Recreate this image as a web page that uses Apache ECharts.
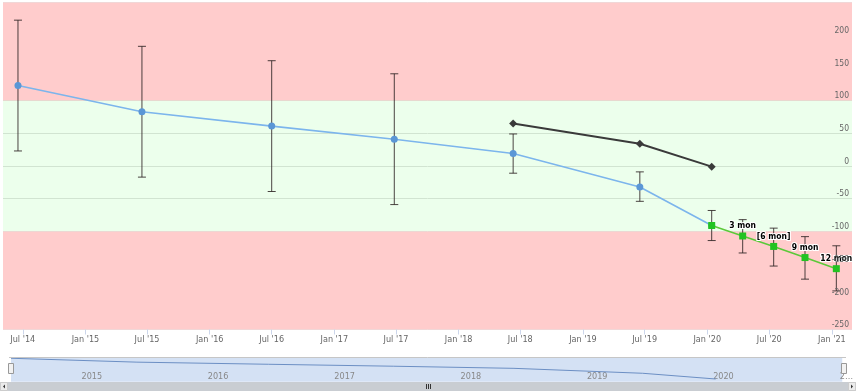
<!DOCTYPE html>
<html>
<head>
<meta charset="utf-8">
<script src="https://cdn.jsdelivr.net/npm/echarts@6/dist/echarts.min.js"></script>
<style>html,body{margin:0;padding:0;background:#fff}#c{width:856px;height:392px}</style>
</head>
<body>
<div id="c"></div>
<script>
// ---- data ----
const blueDates = ['2014-06-17','2015-06-16','2016-07-01','2017-06-26','2018-06-10','2019-06-17','2020-01-14'];
const blueValues = [123, 83, 61, 41, 19, -32, -91];
const blueLow    = [23, -17, -39, -59, -11, -54, -114];
const blueHigh   = [223, 183, 161, 141, 49, -9, -68];

const greenDates  = ['2020-01-14','2020-04-14','2020-07-14','2020-10-14','2021-01-14'];
const greenValues = [-91, -107, -123, -140, -157];
const greenLow    = [null, -133, -153, -173, -191];
const greenHigh   = [null, -82, -95, -108, -122];
const greenLabels = ['', '3 mon', '[6 mon]', '9 mon', '12 mon'];

const blackDates  = ['2018-06-10','2019-06-17','2020-01-14'];
const blackValues = [65, 34, -1];

const bandLimits = [[100, 250], [-100, 100], [-250, -100]];

const xTickDates  = ['2014-07-01','2015-01-01','2015-07-01','2016-01-01','2016-07-01','2017-01-01','2017-07-01','2018-01-01','2018-07-01','2019-01-01','2019-07-01','2020-01-01','2020-07-01','2021-01-01'];
const xTickLabels = ["Jul '14","Jan '15","Jul '15","Jan '16","Jul '16","Jan '17","Jul '17","Jan '18","Jul '18","Jan '19","Jul '19","Jan '20","Jul '20","Jan '21"];
const navTickDates  = ['2015-01-01','2016-01-01','2017-01-01','2018-01-01','2019-01-01','2020-01-01','2021-01-01'];
const navTickLabels = ['2015','2016','2017','2018','2019','2020','2…'];
const xRange = ['2014-05-04', '2021-03-01'];

// ---- helpers ----
const t = s => new Date(s + 'T00:00:00').getTime();
const FONT = "'Liberation Sans Narrow','DejaVu Sans Condensed',Roboto,sans-serif";

const errData = [];
blueDates.forEach((d, i) => errData.push([t(d), blueLow[i], blueHigh[i]]));
greenDates.forEach((d, i) => { if (greenLow[i] !== null) errData.push([t(d), greenLow[i], greenHigh[i]]); });

const xTickMap = {}; xTickDates.forEach((d, i) => xTickMap[t(d)] = xTickLabels[i]);
const navTickMap = {}; navTickDates.forEach((d, i) => navTickMap[t(d)] = navTickLabels[i]);

const chart = echarts.init(document.getElementById('c'), null, {renderer: 'canvas'});
const option = {
  animation: false,
  grid: [
    {left: 3, right: 4, top: 2.5, height: 327},
    {left: 11, right: 12, top: 357.5, height: 24.2, show: true, backgroundColor: '#d4e1f4', borderWidth: 0}
  ],
  xAxis: [
    {
      type: 'value', gridIndex: 0, min: t(xRange[0]), max: t(xRange[1]), z: 10,
      axisLine: {show: false, onZero: false},
      axisTick: {show: true, length: 5, lineStyle: {color: '#ccd6eb'}, customValues: xTickDates.map(t)},
      axisLabel: {customValues: xTickDates.map(t), formatter: v => xTickMap[v] || '', color: '#666', fontSize: 9, fontFamily: FONT, margin: 6},
      splitLine: {show: false}
    },
    {
      type: 'value', gridIndex: 1, min: t(blueDates[0]), max: t(greenDates[greenDates.length - 1]),
      axisLine: {show: false, onZero: false},
      axisTick: {show: false, customValues: navTickDates.map(t)},
      axisLabel: {inside: true, customValues: navTickDates.map(t), formatter: v => navTickMap[v] || '', color: '#888', fontSize: 9, fontFamily: FONT, align: 'left', margin: 1, padding: [0,0,0,2]},
      splitLine: {show: false}
    }
  ],
  yAxis: [
    {
      type: 'value', gridIndex: 0, position: 'right', min: -250, max: 250, interval: 50, z: 0,
      axisLine: {show: false}, axisTick: {show: false}, axisLabel: {show: false},
      splitLine: {show: true, lineStyle: {color: '#e2e2e2'}}
    },
    {type: 'value', gridIndex: 1, min: -119, max: 131, show: false, splitLine: {show: false}},
    {
      type: 'value', gridIndex: 0, position: 'right', min: -250, max: 250, interval: 50, z: 10,
      axisLine: {show: false}, axisTick: {show: false},
      axisLabel: {inside: true, showMaxLabel: false, color: '#666', fontSize: 8.5, fontFamily: FONT, verticalAlign: 'bottom', margin: 3},
      splitLine: {show: false}
    }
  ],
  series: [
    {
      type: 'line', xAxisIndex: 0, yAxisIndex: 0, data: [], z: 0, silent: true,
      markArea: {
        silent: true,
        data: bandLimits.map((b, i) => [
          {yAxis: b[0], itemStyle: {color: i === 1 ? 'rgba(0,255,0,0.075)' : '#ffcccc'}},
          {yAxis: b[1]}
        ])
      }
    },
    {
      type: 'custom', xAxisIndex: 0, yAxisIndex: 0, z: 3,
      data: errData,
      encode: {x: 0, y: [1, 2]},
      renderItem: (params, api) => {
        const x = api.value(0);
        const lo = api.coord([x, api.value(1)]);
        const hi = api.coord([x, api.value(2)]);
        const w = 4;
        const style = {stroke: 'rgba(45,35,35,0.85)', lineWidth: 1};
        return {type: 'group', children: [
          {type: 'line', shape: {x1: lo[0], y1: lo[1], x2: hi[0], y2: hi[1]}, style},
          {type: 'line', shape: {x1: hi[0] - w, y1: hi[1], x2: hi[0] + w, y2: hi[1]}, style},
          {type: 'line', shape: {x1: lo[0] - w, y1: lo[1], x2: lo[0] + w, y2: lo[1]}, style}
        ]};
      }
    },
    {
      type: 'line', xAxisIndex: 0, yAxisIndex: 0, z: 4,
      data: blueDates.map((d, i) => [t(d), blueValues[i]]),
      lineStyle: {color: '#7cb5ec', width: 1.6},
      symbol: 'circle', symbolSize: 7,
      itemStyle: {color: '#5b97d6'}
    },
    {
      type: 'line', xAxisIndex: 0, yAxisIndex: 0, z: 6,
      data: blackDates.map((d, i) => [t(d), blackValues[i]]),
      lineStyle: {color: '#3a3a3a', width: 2},
      symbol: 'diamond', symbolSize: 8,
      itemStyle: {color: '#3a3a3a'}
    },
    {
      type: 'line', xAxisIndex: 0, yAxisIndex: 0, z: 5,
      data: greenDates.map((d, i) => [t(d), greenValues[i]]),
      lineStyle: {color: '#5cc93a', width: 1.6},
      symbol: 'rect', symbolSize: 7,
      itemStyle: {color: '#22c322'},
      label: {
        show: true, position: 'top', distance: 2,
        formatter: p => greenLabels[p.dataIndex],
        color: '#000', fontSize: 8.5, fontWeight: 'bold', fontFamily: FONT,
        textBorderColor: '#fff', textBorderWidth: 2
      }
    },
    {
      type: 'line', xAxisIndex: 1, yAxisIndex: 1, z: 2, silent: true,
      data: blueDates.map((d, i) => [t(d), blueValues[i]]),
      lineStyle: {color: '#6c8fc4', width: 1},
      symbol: 'none'
    }
  ],
  graphic: [
    {type: 'line', shape: {x1: 9, y1: 357.5, x2: 846, y2: 357.5}, style: {stroke: '#c6c6c6', lineWidth: 1}, z: 10},
    {type: 'rect', shape: {x: 0, y: 382, width: 856, height: 9}, style: {fill: '#c9cdd2'}, z: 10},
    {type: 'rect', shape: {x: 0.5, y: 382.5, width: 7, height: 8}, style: {fill: '#ebebeb', stroke: '#cccccc'}, z: 11},
    {type: 'polygon', shape: {points: [[5, 384.5], [5, 388.5], [3, 386.5]]}, style: {fill: '#333'}, z: 12},
    {type: 'rect', shape: {x: 848.5, y: 382.5, width: 7, height: 8}, style: {fill: '#ebebeb', stroke: '#cccccc'}, z: 11},
    {type: 'polygon', shape: {points: [[851, 384.5], [851, 388.5], [853, 386.5]]}, style: {fill: '#333'}, z: 12},
    {type: 'line', shape: {x1: 426.5, y1: 384, x2: 426.5, y2: 389}, style: {stroke: '#333', lineWidth: 1}, z: 12},
    {type: 'line', shape: {x1: 428.5, y1: 384, x2: 428.5, y2: 389}, style: {stroke: '#333', lineWidth: 1}, z: 12},
    {type: 'line', shape: {x1: 430.5, y1: 384, x2: 430.5, y2: 389}, style: {stroke: '#333', lineWidth: 1}, z: 12},
    {type: 'rect', shape: {x: 8.5, y: 363.5, width: 5, height: 10}, style: {fill: '#f2f2f2', stroke: '#999'}, z: 12},
    {type: 'rect', shape: {x: 841.5, y: 363.5, width: 5, height: 10}, style: {fill: '#f2f2f2', stroke: '#999'}, z: 12}
  ]
};
chart.setOption(option);
</script>
</body>
</html>
